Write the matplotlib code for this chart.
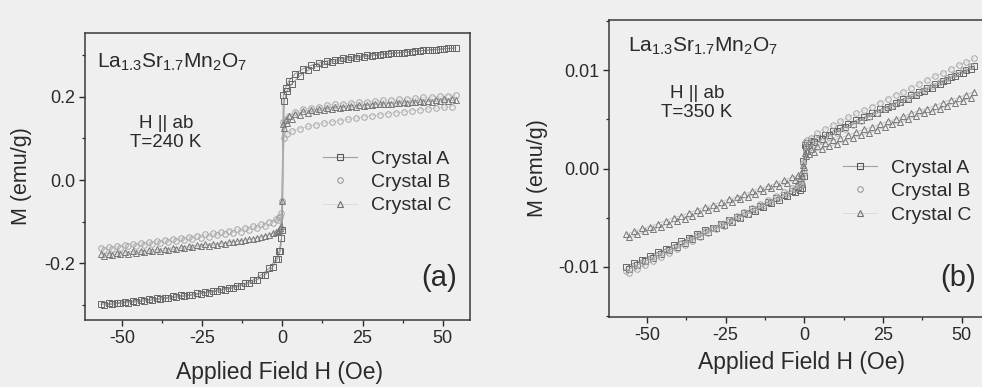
import matplotlib
matplotlib.use("Agg")
import matplotlib.pyplot as plt
from matplotlib.lines import Line2D
from matplotlib.ticker import MultipleLocator, FormatStrFormatter

plt.rcParams["font.family"] = ["Liberation Sans", "DejaVu Sans"]
plt.rcParams["axes.unicode_minus"] = False
plt.rcParams["mathtext.fontset"] = "custom"
plt.rcParams["mathtext.rm"] = "Liberation Sans"
plt.rcParams["mathtext.it"] = "Liberation Sans:italic"

# ---- field sweeps (Oe) ----
# descending branch: +54 Oe -> -56.5 Oe
H_down = [54, 51.5, 49, 46.5, 44, 41.5, 39, 36.5, 34, 31.5, 29, 26.5, 24, 21.5,
          19, 16.5, 14, 11.5, 9, 6.5, 4, 2, 1, 0.3,
          -0.3, -1, -2, -4, -6.5, -9, -11.5, -14, -16.5, -19, -21.5, -24, -26.5,
          -29, -31.5, -34, -36.5, -39, -41.5, -44, -46.5, -49, -51.5, -54, -56.5]
# ascending branch: -55.5 Oe -> +53 Oe
H_up = [-55.5, -53, -50.5, -48, -45.5, -43, -40.5, -38, -35.5, -33, -30.5, -28,
        -25.5, -23, -20.5, -18, -15.5, -13, -10.5, -8, -5.5, -3, -1.5, -0.6,
        0, 0.6, 1.5, 3, 5.5, 8, 10.5, 13, 15.5, 18, 20.5, 23, 25.5, 28, 30.5, 33,
        35.5, 38, 40.5, 43, 45.5, 48, 50.5, 53]

# ---- (a) T = 240 K, magnetization (emu/g) ----
A240_down = [0.318, 0.317, 0.315, 0.314, 0.312, 0.311, 0.309, 0.307, 0.306, 0.304,
             0.302, 0.300, 0.298, 0.296, 0.293, 0.290, 0.287, 0.282, 0.276, 0.268,
             0.256, 0.238, 0.222, 0.205,
             -0.140, -0.172, -0.190, -0.212, -0.228, -0.240, -0.248, -0.254, -0.259,
             -0.263, -0.267, -0.270, -0.273, -0.276, -0.278, -0.280, -0.283, -0.285,
             -0.287, -0.289, -0.291, -0.293, -0.295, -0.297, -0.299]
A240_up = [-0.301, -0.299, -0.297, -0.295, -0.293, -0.291, -0.289, -0.287, -0.285,
           -0.282, -0.280, -0.277, -0.274, -0.271, -0.268, -0.264, -0.260, -0.255,
           -0.249, -0.241, -0.229, -0.210, -0.190, -0.170,
           -0.120, 0.190, 0.215, 0.232, 0.251, 0.264, 0.273, 0.279, 0.284, 0.288,
           0.291, 0.294, 0.297, 0.299, 0.301, 0.303, 0.305, 0.307, 0.309, 0.311,
           0.312, 0.314, 0.316, 0.317]
B240_down = [0.205, 0.203, 0.202, 0.200, 0.199, 0.197, 0.196, 0.195, 0.193, 0.192,
             0.190, 0.189, 0.187, 0.186, 0.184, 0.182, 0.180, 0.177, 0.174, 0.170,
             0.163, 0.155, 0.147, 0.140,
             -0.080, -0.088, -0.094, -0.100, -0.106, -0.111, -0.115, -0.119, -0.122,
             -0.125, -0.128, -0.131, -0.134, -0.136, -0.139, -0.141, -0.144, -0.146,
             -0.149, -0.151, -0.154, -0.156, -0.159, -0.161, -0.163]
B240_up = [-0.168, -0.165, -0.163, -0.160, -0.158, -0.156, -0.153, -0.151, -0.149,
           -0.146, -0.144, -0.141, -0.139, -0.136, -0.133, -0.130, -0.127, -0.124,
           -0.120, -0.116, -0.111, -0.104, -0.097, -0.090,
           -0.050, 0.100, 0.110, 0.118, 0.124, 0.129, 0.133, 0.137, 0.140, 0.143,
           0.146, 0.149, 0.152, 0.155, 0.157, 0.160, 0.162, 0.164, 0.167, 0.169,
           0.171, 0.173, 0.175, 0.177]
C240_down = [0.192, 0.191, 0.190, 0.189, 0.188, 0.187, 0.186, 0.185, 0.184, 0.183,
             0.182, 0.181, 0.180, 0.179, 0.177, 0.176, 0.174, 0.172, 0.169, 0.165,
             0.160, 0.153, 0.145, 0.135,
             -0.110, -0.120, -0.125, -0.132, -0.137, -0.141, -0.144, -0.147, -0.149,
             -0.151, -0.153, -0.155, -0.157, -0.159, -0.161, -0.163, -0.165, -0.167,
             -0.168, -0.170, -0.172, -0.173, -0.175, -0.177, -0.178]
C240_up = [-0.182, -0.180, -0.178, -0.177, -0.175, -0.173, -0.172, -0.170, -0.168,
           -0.166, -0.164, -0.162, -0.160, -0.158, -0.156, -0.153, -0.150, -0.147,
           -0.143, -0.139, -0.134, -0.128, -0.122, -0.115,
           -0.050, 0.125, 0.138, 0.148, 0.156, 0.161, 0.165, 0.168, 0.171, 0.173,
           0.175, 0.177, 0.179, 0.181, 0.182, 0.184, 0.185, 0.187, 0.188, 0.190,
           0.191, 0.193, 0.194, 0.196]

# ---- (b) T = 350 K, magnetization (emu/g) ----
A350_down = [0.0104, 0.0100, 0.0097, 0.0093, 0.0089, 0.0086, 0.0082, 0.0078, 0.0075,
             0.0071, 0.0067, 0.0063, 0.0060, 0.0056, 0.0052, 0.0049, 0.0045, 0.0041,
             0.0038, 0.0034, 0.0031, 0.0028, 0.0026, 0.0024,
             0.0008, -0.0016, -0.0019, -0.0023, -0.0027, -0.0030, -0.0034, -0.0038,
             -0.0041, -0.0045, -0.0049, -0.0052, -0.0056, -0.0060, -0.0063, -0.0067,
             -0.0071, -0.0074, -0.0078, -0.0082, -0.0085, -0.0089, -0.0093, -0.0096,
             -0.0100]
A350_up = [-0.0102, -0.0098, -0.0094, -0.0091, -0.0087, -0.0083, -0.0080, -0.0076,
           -0.0072, -0.0069, -0.0065, -0.0061, -0.0057, -0.0054, -0.0050, -0.0046,
           -0.0043, -0.0039, -0.0035, -0.0032, -0.0028, -0.0024, -0.0022, -0.0020,
           -0.0008, 0.0022, 0.0024, 0.0027, 0.0030, 0.0034, 0.0038, 0.0042, 0.0045,
           0.0049, 0.0053, 0.0056, 0.0060, 0.0064, 0.0068, 0.0071, 0.0075, 0.0079,
           0.0082, 0.0086, 0.0090, 0.0094, 0.0097, 0.0101]
B350_down = [0.0112, 0.0108, 0.0105, 0.0101, 0.0097, 0.0094, 0.0090, 0.0086, 0.0082,
             0.0078, 0.0075, 0.0071, 0.0067, 0.0063, 0.0059, 0.0056, 0.0052, 0.0048,
             0.0044, 0.0040, 0.0036, 0.0031, 0.0029, 0.0027,
             0.0006, -0.0012, -0.0016, -0.0020, -0.0024, -0.0028, -0.0032, -0.0036,
             -0.0040, -0.0044, -0.0048, -0.0052, -0.0056, -0.0060, -0.0064, -0.0068,
             -0.0072, -0.0076, -0.0080, -0.0084, -0.0088, -0.0092, -0.0096, -0.0100,
             -0.0104]
B350_up = [-0.0106, -0.0102, -0.0098, -0.0094, -0.0090, -0.0086, -0.0082, -0.0078,
           -0.0074, -0.0070, -0.0066, -0.0062, -0.0058, -0.0054, -0.0050, -0.0046,
           -0.0042, -0.0038, -0.0034, -0.0030, -0.0026, -0.0021, -0.0018, -0.0016,
           -0.0005, 0.0018, 0.0021, 0.0024, 0.0028, 0.0032, 0.0036, 0.0040, 0.0044,
           0.0048, 0.0052, 0.0056, 0.0060, 0.0064, 0.0068, 0.0072, 0.0076, 0.0080,
           0.0084, 0.0088, 0.0092, 0.0096, 0.0100, 0.0104]
C350_down = [0.0078, 0.0075, 0.0072, 0.0070, 0.0067, 0.0064, 0.0061, 0.0059, 0.0056,
             0.0053, 0.0050, 0.0048, 0.0045, 0.0042, 0.0040, 0.0037, 0.0034, 0.0031,
             0.0029, 0.0026, 0.0023, 0.0020, 0.0018, 0.0016,
             0.0004, -0.0005, -0.0007, -0.0009, -0.0012, -0.0015, -0.0018, -0.0020,
             -0.0023, -0.0026, -0.0029, -0.0031, -0.0034, -0.0037, -0.0039, -0.0042,
             -0.0045, -0.0048, -0.0050, -0.0053, -0.0056, -0.0059, -0.0061, -0.0064,
             -0.0067]
C350_up = [-0.0070, -0.0067, -0.0064, -0.0062, -0.0059, -0.0056, -0.0053, -0.0051,
           -0.0048, -0.0045, -0.0042, -0.0040, -0.0037, -0.0034, -0.0031, -0.0029,
           -0.0026, -0.0023, -0.0020, -0.0018, -0.0015, -0.0012, -0.0010, -0.0008,
           0.0002, 0.0013, 0.0015, 0.0017, 0.0020, 0.0023, 0.0025, 0.0028, 0.0031,
           0.0034, 0.0036, 0.0039, 0.0042, 0.0045, 0.0047, 0.0050, 0.0053, 0.0056,
           0.0058, 0.0061, 0.0064, 0.0067, 0.0069, 0.0072]

labels = ["Crystal A", "Crystal B", "Crystal C"]
x_ticks = [-50, -25, 0, 25, 50]

BG = "#efefef"
INK = "#2a2a2a"
styles = [
    dict(marker="s", mec="#666666", color="#8a8a8a", lw=0.6),
    dict(marker="o", mec="#a6a6a6", color="#c6c6c6", lw=0.4),
    dict(marker="^", mec="#787878", color="#aaaaaa", lw=0.4),
]

W, Hpx = 982, 387
fig = plt.figure(figsize=(W / 100, Hpx / 100), dpi=100, facecolor=BG)


def box(l, t, r, b):
    return [l / W, 1 - b / Hpx, (r - l) / W, (b - t) / Hpx]


def panel(rect, series, xlim, ylim, ymajor, yminor, yfmt, temp, tag,
          formula_xy, cond_xy, legend_xy, tag_xy, ylabel_x, xlabel_y):
    ax = fig.add_axes(box(*rect))
    ax.set_facecolor(BG)
    for (hd, md, hu, mu), st in zip(series, styles):
        for hh, mm in ((hd, md), (hu, mu)):
            ax.plot(hh, mm, linestyle="-", color=st["color"], lw=st["lw"],
                    marker=st["marker"], ms=4.0, mfc="none", mec=st["mec"],
                    mew=0.7)
    ax.set_xlim(*xlim)
    ax.set_ylim(*ylim)
    ax.xaxis.set_major_locator(plt.FixedLocator(x_ticks))
    ax.xaxis.set_minor_locator(MultipleLocator(12.5))
    ax.yaxis.set_major_locator(MultipleLocator(ymajor))
    ax.yaxis.set_minor_locator(MultipleLocator(yminor))
    ax.yaxis.set_major_formatter(FormatStrFormatter(yfmt))
    ax.tick_params(which="major", direction="out", length=4, width=1,
                   colors=INK, labelsize=13, pad=3)
    ax.tick_params(which="minor", direction="out", length=2.5, width=0.9,
                   colors=INK)
    for sp in ax.spines.values():
        sp.set_color("#3a3a3a")
        sp.set_linewidth(1.1)
    fig.text(ylabel_x / W, 1 - (rect[1] + rect[3]) / 2 / Hpx, "M (emu/g)",
             rotation=90, ha="center", va="center", fontsize=15.5, color=INK)
    fig.text(((rect[0] + rect[2]) / 2 + 2) / W, 1 - xlabel_y / Hpx,
             "Applied Field H (Oe)", ha="center", va="center",
             fontsize=16.5, color=INK)
    fig.text(formula_xy[0] / W, 1 - formula_xy[1] / Hpx,
             r"La$_{1.3}$Sr$_{1.7}$Mn$_2$O$_7$", ha="left", va="baseline",
             fontsize=15, color=INK)
    fig.text(cond_xy[0] / W, 1 - cond_xy[1] / Hpx, "H || ab\nT=%d K" % temp,
             ha="center", va="center", fontsize=13.5, color=INK,
             linespacing=1.2)
    fig.text(tag_xy[0] / W, 1 - tag_xy[1] / Hpx, tag, ha="center",
             va="center", fontsize=21, color=INK)
    handles = [
        Line2D([], [], color="#a0a0a0", lw=0.8, marker="s", ms=4, mfc="none",
               mec="#555555", mew=0.8),
        Line2D([], [], color="none", lw=0, marker="o", ms=4, mfc="none",
               mec="#9a9a9a", mew=0.8),
        Line2D([], [], color="#d8d8d8", lw=0.6, marker="^", ms=4, mfc="none",
               mec="#707070", mew=0.8),
    ]
    fig.legend(handles, labels, loc="upper left",
               bbox_to_anchor=(legend_xy[0] / W, 1 - legend_xy[1] / Hpx),
               frameon=False, fontsize=14, handlelength=1.75,
               handletextpad=0.7, labelspacing=0.3, borderpad=0,
               borderaxespad=0, labelcolor=INK)
    return ax


panel((85, 33, 470, 320),
      [(H_down, A240_down, H_up, A240_up),
       (H_down, B240_down, H_up, B240_up),
       (H_down, C240_down, H_up, C240_up)],
      (-61.5, 58.5), (-0.337, 0.354), 0.2, 0.1, "%.1f", 240, "(a)",
      (97, 68), (166, 133), (323, 150), (439, 278), 22, 373)

panel((609, 20, 990, 317),
      [(H_down, A350_down, H_up, A350_up),
       (H_down, B350_down, H_up, B350_up),
       (H_down, C350_down, H_up, C350_up)],
      (-62, 59), (-0.0151, 0.0151), 0.01, 0.005, "%.2f", 350, "(b)",
      (628, 52), (697, 103), (843, 159), (958, 278), 537, 362)

fig.savefig("out.png", dpi=100, facecolor=BG)
